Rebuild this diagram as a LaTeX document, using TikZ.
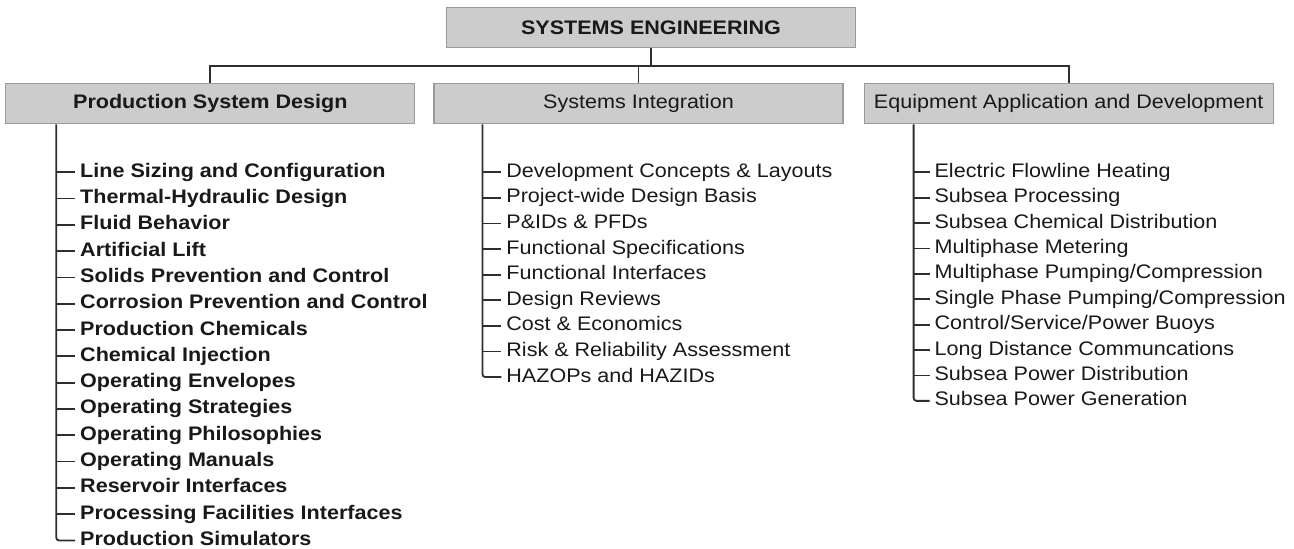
\documentclass[tikz,border=0pt]{standalone}
\usepackage{fontspec}
\setmainfont{Liberation Sans}[FakeStretch=1.1]
\usepackage{xcolor}
\usepackage{tikz}
\usetikzlibrary{positioning}

\definecolor{boxgray}{HTML}{CCCCCC}
\definecolor{edgegray}{HTML}{9A9A9A}
\definecolor{linegray}{HTML}{2E2E2E}

\begin{document}
\begin{tikzpicture}[x=0.5pt, y=-0.5pt,
  head/.style={draw=edgegray, fill=boxgray, line width=0.6pt, minimum width=204.5pt, minimum height=20pt, inner sep=0pt, font=\fontsize{9.8}{11}\selectfont, text=black!90},
  item/.style={inner xsep=2.5pt, inner ysep=0pt, outer sep=0pt, text height=7pt, text depth=2pt, font=\fontsize{9.8}{11}\selectfont, text=black!90},
  bolditem/.style={item, font=\fontsize{9.8}{11}\selectfont\bfseries},
  link/.style={draw=linegray, line width=0.9pt}]
\path[use as bounding box, fill=white] (0,0) rectangle (1294,549);

% headings
\node[head] (se) at (651,27.5) {\bfseries SYSTEMS ENGINEERING};
\node[head, below=17.5pt of se, xshift=-6.25pt] (si) {Systems Integration};
\node[head, left=9pt of si] (ps) {\bfseries Production System Design};
\node[head, right=10pt of si] (ea) {Equipment Application and Development};

% bus between the levels
\coordinate[below=9pt of se.south] (bus);
\draw[link] (se.south) -- (bus);
\draw[link] (ps.north) |- (ea.north |- bus) -- (ea.north);
\draw[link] (si.north) -- (si.north |- bus);

% production system design
\begin{scope}[node distance=4.15pt and 0pt]
\node[bolditem, below right=19.5pt and 35pt of ps.south west] (ps1) {Line Sizing and Configuration};
\node[bolditem, below right=of ps1.south west] (ps2) {Thermal-Hydraulic Design};
\node[bolditem, below right=of ps2.south west] (ps3) {Fluid Behavior};
\node[bolditem, below right=of ps3.south west] (ps4) {Artificial Lift};
\node[bolditem, below right=of ps4.south west] (ps5) {Solids Prevention and Control};
\node[bolditem, below right=of ps5.south west] (ps6) {Corrosion Prevention and Control};
\node[bolditem, below right=of ps6.south west] (ps7) {Production Chemicals};
\node[bolditem, below right=of ps7.south west] (ps8) {Chemical Injection};
\node[bolditem, below right=of ps8.south west] (ps9) {Operating Envelopes};
\node[bolditem, below right=of ps9.south west] (ps10) {Operating Strategies};
\node[bolditem, below right=of ps10.south west] (ps11) {Operating Philosophies};
\node[bolditem, below right=of ps11.south west] (ps12) {Operating Manuals};
\node[bolditem, below right=of ps12.south west] (ps13) {Reservoir Interfaces};
\node[bolditem, below right=of ps13.south west] (ps14) {Processing Facilities Interfaces};
\node[bolditem, below right=of ps14.south west] (ps15) {Production Simulators};
\end{scope}
\coordinate[left=9.5pt of ps1.west] (pst);
\draw[link, rounded corners=1.5pt] (ps.south -| pst) |- (ps15.west);
\foreach \i in {1,...,14} \draw[link] (pst |- ps\i.west) -- (ps\i.west);

% systems integration
\begin{scope}[node distance=3.8pt and 0pt]
\node[item, below right=19.5pt and 34pt of si.south west] (si1) {Development Concepts \& Layouts};
\node[item, below right=of si1.south west] (si2) {Project-wide Design Basis};
\node[item, below right=of si2.south west] (si3) {P\&IDs \& PFDs};
\node[item, below right=of si3.south west] (si4) {Functional Specifications};
\node[item, below right=of si4.south west] (si5) {Functional Interfaces};
\node[item, below right=of si5.south west] (si6) {Design Reviews};
\node[item, below right=of si6.south west] (si7) {Cost \& Economics};
\node[item, below right=of si7.south west] (si8) {Risk \& Reliability Assessment};
\node[item, below right=of si8.south west] (si9) {HAZOPs and HAZIDs};
\end{scope}
\coordinate[left=9.5pt of si1.west] (sit);
\draw[link, rounded corners=1.5pt] (si.south -| sit) |- (si9.west);
\foreach \i in {1,...,8} \draw[link] (sit |- si\i.west) -- (si\i.west);

% equipment application and development
\begin{scope}[node distance=3.7pt and 0pt]
\node[item, below right=19.5pt and 33pt of ea.south west] (ea1) {Electric Flowline Heating};
\node[item, below right=of ea1.south west] (ea2) {Subsea Processing};
\node[item, below right=of ea2.south west] (ea3) {Subsea Chemical Distribution};
\node[item, below right=of ea3.south west] (ea4) {Multiphase Metering};
\node[item, below right=of ea4.south west] (ea5) {Multiphase Pumping/Compression};
\node[item, below right=of ea5.south west] (ea6) {Single Phase Pumping/Compression};
\node[item, below right=of ea6.south west] (ea7) {Control/Service/Power Buoys};
\node[item, below right=of ea7.south west] (ea8) {Long Distance Communcations};
\node[item, below right=of ea8.south west] (ea9) {Subsea Power Distribution};
\node[item, below right=of ea9.south west] (ea10) {Subsea Power Generation};
\end{scope}
\coordinate[left=8pt of ea1.west] (eat);
\draw[link, rounded corners=1.5pt] (ea.south -| eat) |- (ea10.west);
\foreach \i in {1,...,9} \draw[link] (eat |- ea\i.west) -- (ea\i.west);
\end{tikzpicture}
\end{document}
